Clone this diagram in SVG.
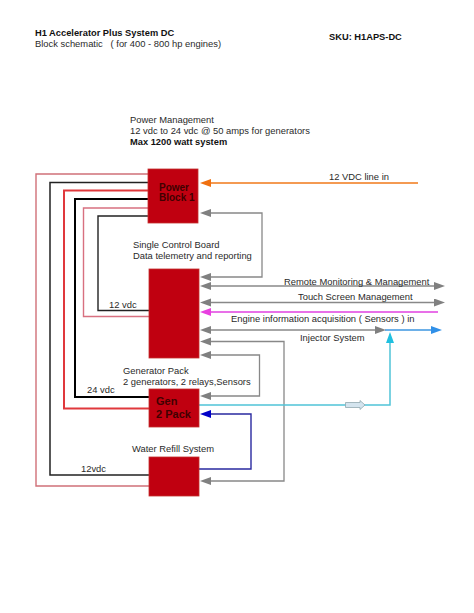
<svg xmlns="http://www.w3.org/2000/svg" width="474" height="613" viewBox="0 0 474 613">
<style>
text{font-family:"Liberation Sans",Arial,sans-serif;font-size:9.4px;fill:#2a2a2a;white-space:pre}
.b{font-weight:bold;fill:#111;font-size:9.300px}
.k{font-weight:bold;font-size:10px;fill:#400000}
.k2{font-weight:bold;font-size:11px;fill:#400000}
.n{fill:#c00010;stroke:#c4302f;stroke-width:.8}
.c{fill:none}
.g{stroke:#888;stroke-width:1.3}
</style>
<defs>
<marker id="ag" markerUnits="userSpaceOnUse" markerWidth="12" markerHeight="10" refX="0" refY="4" orient="auto-start-reverse"><path d="M0 0L11 4L0 8Z" fill="#808080"/></marker>
<marker id="ao" markerUnits="userSpaceOnUse" markerWidth="12" markerHeight="10" refX="0" refY="4" orient="auto"><path d="M0 0L11 4L0 8Z" fill="#f07010"/></marker>
<marker id="am" markerUnits="userSpaceOnUse" markerWidth="12" markerHeight="10" refX="0" refY="4" orient="auto"><path d="M0 0L11 4L0 8Z" fill="#e840e0"/></marker>
<marker id="an" markerUnits="userSpaceOnUse" markerWidth="12" markerHeight="10" refX="0" refY="4" orient="auto"><path d="M0 0L11 4L0 8Z" fill="#0000c8"/></marker>
<marker id="ac" markerUnits="userSpaceOnUse" markerWidth="12" markerHeight="10" refX="0" refY="4" orient="auto"><path d="M0 0L11 4L0 8Z" fill="#20c0e0"/></marker>
<marker id="ab" markerUnits="userSpaceOnUse" markerWidth="12" markerHeight="10" refX="0" refY="4" orient="auto"><path d="M0 0L11 4L0 8Z" fill="#3090e8"/></marker>
</defs>
<g id="connectors">
<path class="c" d="M148 174H36V486H149" stroke="#d07078" stroke-width="1.4"/>
<path class="c" d="M148 182.500H50V475H149" stroke="#222" stroke-width="1.5"/>
<path class="c" d="M148 190.500H64V408.500H149" stroke="#e0383c" stroke-width="2"/>
<path class="c" d="M148 199H75V397H149" stroke="#000" stroke-width="2"/>
<path class="c" d="M148 208H83.500V316.500H149" stroke="#d87080" stroke-width="1.4"/>
<path class="c" d="M148 216H98V310.500H149" stroke="#222" stroke-width="1.4"/>
<path class="c" d="M418 183H211" stroke="#f07818" stroke-width="1.6" marker-end="url(#ao)"/>
<path class="c g" d="M211 213H262V277H211" marker-end="url(#ag)" marker-start="url(#ag)"/>
<path class="c g" d="M211 286H434" marker-end="url(#ag)" marker-start="url(#ag)"/>
<path class="c g" d="M211 302.500H434" marker-end="url(#ag)" marker-start="url(#ag)"/>
<path class="c" d="M438 312H211" stroke="#e040e0" stroke-width="1.3" marker-end="url(#am)"/>
<path class="c" d="M385 330H431" stroke="#3c96e0" stroke-width="1.3" marker-end="url(#ab)"/>
<path class="c g" d="M211 330H375" marker-end="url(#ag)" marker-start="url(#ag)"/>
<path class="c g" d="M211 341.500H284V481H211" marker-end="url(#ag)" marker-start="url(#ag)"/>
<path class="c g" d="M211 355H259.500V396H211" marker-end="url(#ag)" marker-start="url(#ag)"/>
<path class="c" d="M199 405H390V343" stroke="#50c4d8" stroke-width="1.5" marker-end="url(#ac)"/>
<path d="M345.500 402.500H360V400.500L365 405L360 409.500V407.500H345.500Z" fill="#d4e4ee" stroke="#90a8b0" stroke-width=".8"/>
<path class="c" d="M199 469H251V414H211" stroke="#2a2aa0" stroke-width="1.4" marker-end="url(#an)"/>
</g>
<g id="power-block"><rect class="n" x="148" y="169" width="50" height="54"/><text class="k" x="159" y="191">Power</text><text class="k" x="159" y="201">Block 1</text></g>
<g id="control-board"><rect class="n" x="149" y="269" width="50" height="89"/></g>
<g id="gen-pack"><rect class="n" x="149" y="389" width="50" height="38"/><text class="k2" x="156" y="405">Gen</text><text class="k2" x="156" y="418">2 Pack</text></g>
<g id="water-refill"><rect class="n" x="149" y="457" width="50" height="39"/></g>
<g id="labels">
<text class="b" x="35" y="36">H1 Accelerator Plus System DC</text>
<text x="35" y="47">Block schematic   ( for 400 - 800 hp engines)</text>
<text class="b" x="329" y="40">SKU: H1APS-DC</text>
<text x="130" y="123">Power Management</text>
<text x="130" y="134">12 vdc to 24 vdc @ 50 amps for generators</text>
<text class="b" x="130" y="145">Max 1200 watt system</text>
<text x="329" y="180">12 VDC line in</text>
<text x="133" y="248">Single Control Board</text>
<text x="133" y="259">Data telemetry and reporting</text>
<text x="284" y="285">Remote Monitoring &amp; Management</text>
<text x="298" y="300">Touch Screen Management</text>
<text x="231" y="322">Engine information acquisition ( Sensors ) in</text>
<text x="300" y="341">Injector System</text>
<text x="109" y="308">12 vdc</text>
<text x="123" y="374">Generator Pack</text>
<text x="123" y="385">2 generators, 2 relays,Sensors</text>
<text x="87" y="393">24 vdc</text>
<text x="132" y="452">Water Refill System</text>
<text x="81" y="472">12vdc</text>
</g>
</svg>
